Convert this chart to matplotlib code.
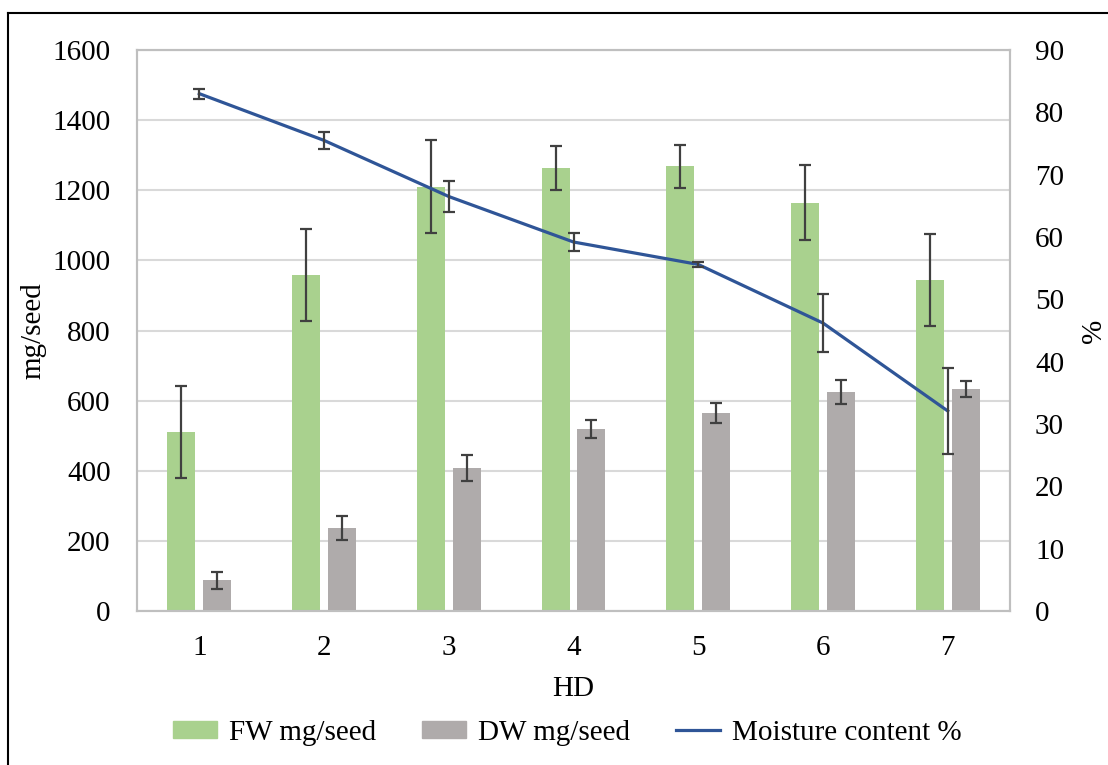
import numpy as np
import matplotlib
matplotlib.use("Agg")
import matplotlib.pyplot as plt
from matplotlib.lines import Line2D

plt.rcParams['font.family'] = ['Liberation Serif', 'DejaVu Serif']

hd = [1, 2, 3, 4, 5, 6, 7]
fw = [511, 958, 1210, 1264, 1268, 1164, 943]
fw_err = [131, 132, 132, 62, 62, 107, 131]
dw = [88, 237, 408, 519, 565, 625, 632]
dw_err = [24, 34, 36, 25, 28, 34, 23]
moisture = [83.0, 75.5, 66.5, 59.2, 55.6, 46.2, 32.1]
moisture_err = [0.8, 1.3, 2.5, 1.5, 0.4, 4.6, 6.9]

green = '#A9D18E'
grey = '#AFABAB'
blue = '#2F5597'
errc = '#404040'
fs = 21

fig = plt.figure(figsize=(11.08, 7.65), dpi=100)
ax = fig.add_axes([0.1236, 0.2013, 0.7880, 0.7333])

x = np.array(hd, dtype=float)
w = 0.225
off = 0.144
ax.bar(x - off, fw, w, color=green, zorder=2)
ax.bar(x + off, dw, w, color=grey, zorder=2)
ekw = dict(fmt='none', ecolor=errc, elinewidth=1.6, capsize=4.5, capthick=1.6, zorder=3)
ax.errorbar(x - off, fw, yerr=fw_err, **ekw)
ax.errorbar(x + off, dw, yerr=dw_err, **ekw)

ax.set_xlim(0.5, 7.5)
ax.set_ylim(0, 1600)
ax.set_yticks(range(0, 1601, 200))
ax.set_xticks(hd)
ax.grid(axis='y', color='#D9D9D9', linewidth=1.5, zorder=0)
ax.set_axisbelow(True)
ax.tick_params(axis='both', length=0, labelsize=fs)
ax.tick_params(axis='y', pad=19)
ax.tick_params(axis='x', pad=17)
for s in ax.spines.values():
    s.set_color('#BFBFBF')
    s.set_linewidth(1.5)
ax.set_ylabel('mg/seed', fontsize=fs, labelpad=4)
ax.set_xlabel('HD', fontsize=fs, labelpad=11)

ax2 = ax.twinx()
ax2.plot(x, moisture, color=blue, linewidth=2.3, zorder=3)
ax2.errorbar(x, moisture, yerr=moisture_err, **ekw)
ax2.set_ylim(0, 90)
ax2.set_yticks(range(0, 91, 10))
ax2.tick_params(axis='y', length=0, labelsize=fs, pad=18)
for s in ax2.spines.values():
    s.set_color('#BFBFBF')
    s.set_linewidth(1.5)
ax2.set_ylabel('%', fontsize=fs, labelpad=12)

handles = [plt.Rectangle((0, 0), 1, 1, color=green),
           plt.Rectangle((0, 0), 1, 1, color=grey),
           Line2D([0], [0], color=blue, linewidth=2.3)]
labels = ['FW mg/seed', 'DW mg/seed', 'Moisture content %']
fig.legend(handles, labels, loc='center', bbox_to_anchor=(0.512, 0.042), ncol=3,
           frameon=False, fontsize=fs, handlelength=1.5, handleheight=0.55,
           handletextpad=0.4, columnspacing=1.6)

# outer chart frame (left and top edges visible)
fig.add_artist(Line2D([8 / 1108, 8 / 1108], [0, 1 - 13 / 765], color='black', linewidth=1.5))
fig.add_artist(Line2D([8 / 1108, 1], [1 - 13 / 765, 1 - 13 / 765], color='black', linewidth=1.5))

fig.savefig('out.png', dpi=100)
